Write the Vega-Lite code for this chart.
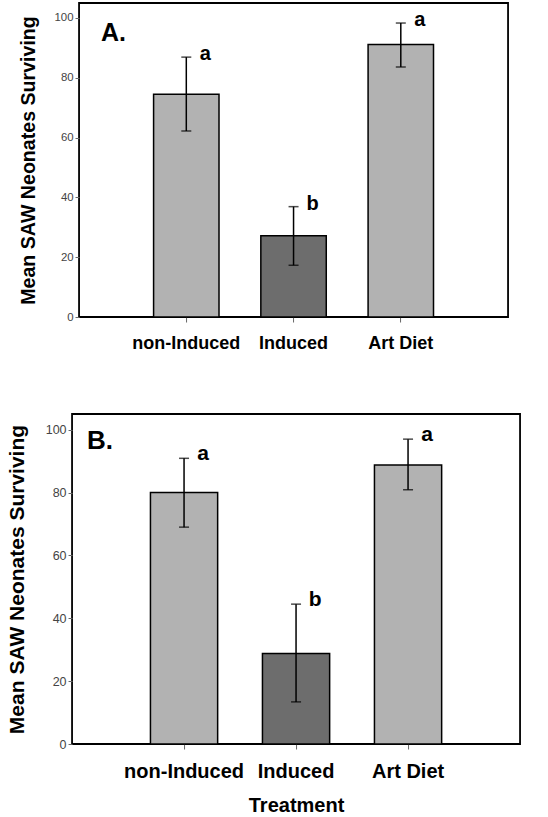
{
  "$schema": "https://vega.github.io/schema/vega-lite/v6.json",
  "padding": {"left": 5, "top": 2, "right": 0, "bottom": 0},
  "background": "white",
  "config": {
    "font": "Liberation Sans",
    "view": {"stroke": "black", "strokeWidth": 1.8},
    "axis": {"grid": false, "domain": false}
  },
  "datasets": {
    "A": [
      {"treatment": "non-Induced", "mean": 74.5, "lo": 62.2, "hi": 86.9, "letter": "a"},
      {"treatment": "Induced", "mean": 27.2, "lo": 17.3, "hi": 36.9, "letter": "b"},
      {"treatment": "Art Diet", "mean": 91.1, "lo": 83.6, "hi": 98.3, "letter": "a"}
    ],
    "B": [
      {"treatment": "non-Induced", "mean": 80.0, "lo": 69.0, "hi": 90.9, "letter": "a"},
      {"treatment": "Induced", "mean": 28.8, "lo": 13.4, "hi": 44.5, "letter": "b"},
      {"treatment": "Art Diet", "mean": 88.8, "lo": 80.9, "hi": 97.0, "letter": "a"}
    ]
  },
  "center": true,
  "spacing": 60,
  "vconcat": [
    {
      "data": {"name": "A"},
      "width": 429,
      "height": 314,
      "title": {"text": "A.", "anchor": "start", "frame": "group", "offset": -43, "dx": 22, "fontSize": 25, "fontWeight": "bold", "color": "black"},
      "encoding": {
        "x": {"field": "treatment", "type": "nominal", "sort": null,
              "scale": {"paddingInner": 0.39, "paddingOuter": 0.695},
              "axis": {"title": " ", "titleX": 434, "titleY": 24, "titleBaseline": "middle", "titleFontSize": 20, "labelAngle": 0, "labelFontSize": 18, "labelFontWeight": "bold", "labelColor": "black", "tickSize": 5, "tickColor": "#666", "labelPadding": 12}}
      },
      "layer": [
        {"mark": {"type": "bar", "stroke": "black", "strokeWidth": 1.5},
         "encoding": {
           "y": {"field": "mean", "type": "quantitative", "scale": {"domain": [0, 105], "nice": false},
                 "axis": {"title": "Mean SAW Neonates Surviving", "values": [0, 20, 40, 60, 80, 100], "labelFontSize": 11.4, "labelColor": "#444", "tickSize": 4, "tickColor": "#666", "labelPadding": 2, "titleFontSize": 19.6, "titleFontWeight": "bold", "titleColor": "black", "titlePadding": 16}},
           "color": {"field": "treatment", "type": "nominal", "legend": null,
                     "scale": {"domain": ["non-Induced", "Induced", "Art Diet"], "range": ["#b2b2b2", "#6d6d6d", "#b2b2b2"]}}
         }},
        {"mark": {"type": "rule", "strokeWidth": 1.5, "color": "black"},
         "encoding": {"y": {"field": "lo", "type": "quantitative"}, "y2": {"field": "hi"}}},
        {"mark": {"type": "tick", "thickness": 1.5, "size": 10, "color": "black"},
         "encoding": {"y": {"field": "lo", "type": "quantitative"}}},
        {"mark": {"type": "tick", "thickness": 1.5, "size": 10, "color": "black"},
         "encoding": {"y": {"field": "hi", "type": "quantitative"}}},
        {"mark": {"type": "text", "dx": 19, "dy": -3, "fontSize": 20, "fontWeight": "bold", "align": "center", "baseline": "middle", "color": "black"},
         "encoding": {"y": {"field": "hi", "type": "quantitative"}, "text": {"field": "letter"}}}
      ]
    },
    {
      "data": {"name": "B"},
      "width": 448,
      "height": 330,
      "title": {"text": "B.", "anchor": "start", "frame": "group", "offset": -40, "dx": 15, "fontSize": 26, "fontWeight": "bold", "color": "black"},
      "encoding": {
        "x": {"field": "treatment", "type": "nominal", "sort": null,
              "scale": {"paddingInner": 0.4, "paddingOuter": 0.7},
              "axis": {"title": "Treatment", "titleFontSize": 20, "titleFontWeight": "bold", "titleColor": "black", "titlePadding": 14, "labelAngle": 0, "labelFontSize": 20, "labelFontWeight": "bold", "labelColor": "black", "tickSize": 5, "tickColor": "#666", "labelPadding": 12}}
      },
      "layer": [
        {"mark": {"type": "bar", "stroke": "black", "strokeWidth": 1.5},
         "encoding": {
           "y": {"field": "mean", "type": "quantitative", "scale": {"domain": [0, 105], "nice": false},
                 "axis": {"title": "Mean SAW Neonates Surviving", "values": [0, 20, 40, 60, 80, 100], "labelFontSize": 12.5, "labelColor": "#444", "tickSize": 4, "tickColor": "#666", "labelPadding": 2, "titleFontSize": 21, "titleFontWeight": "bold", "titleColor": "black", "titlePadding": 18}},
           "color": {"field": "treatment", "type": "nominal", "legend": null,
                     "scale": {"domain": ["non-Induced", "Induced", "Art Diet"], "range": ["#b2b2b2", "#6d6d6d", "#b2b2b2"]}}
         }},
        {"mark": {"type": "rule", "strokeWidth": 1.5, "color": "black"},
         "encoding": {"y": {"field": "lo", "type": "quantitative"}, "y2": {"field": "hi"}}},
        {"mark": {"type": "tick", "thickness": 1.5, "size": 10, "color": "black"},
         "encoding": {"y": {"field": "lo", "type": "quantitative"}}},
        {"mark": {"type": "tick", "thickness": 1.5, "size": 10, "color": "black"},
         "encoding": {"y": {"field": "hi", "type": "quantitative"}}},
        {"mark": {"type": "text", "dx": 19, "dy": -4, "fontSize": 21, "fontWeight": "bold", "align": "center", "baseline": "middle", "color": "black"},
         "encoding": {"y": {"field": "hi", "type": "quantitative"}, "text": {"field": "letter"}}}
      ]
    }
  ]
}
